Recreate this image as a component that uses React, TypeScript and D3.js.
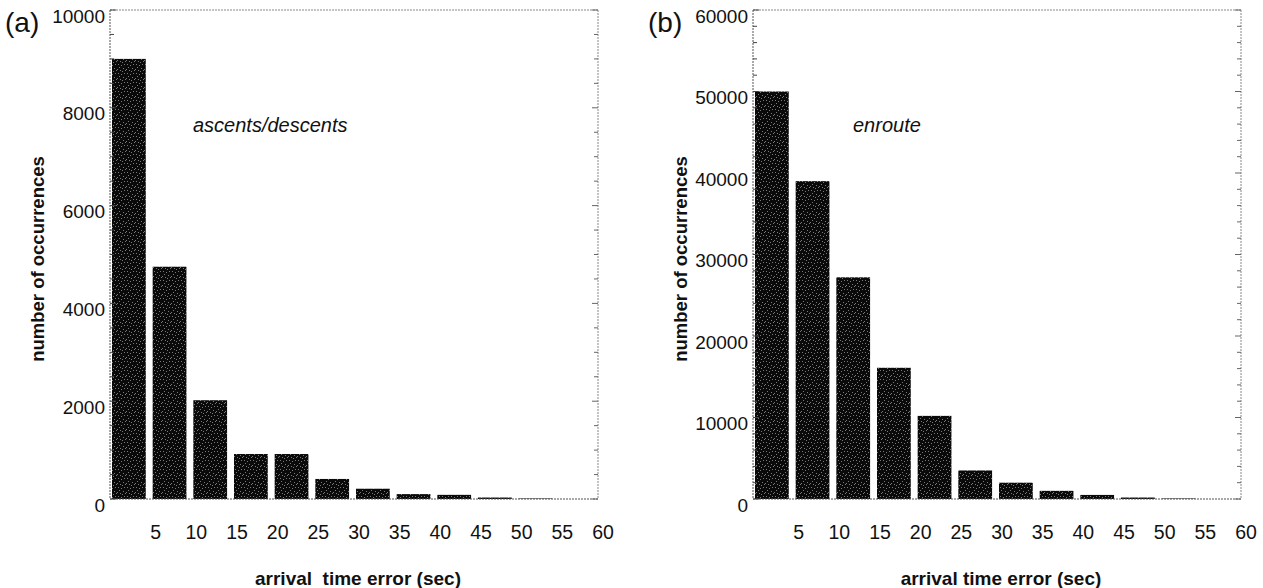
import React, { useEffect, useRef } from "react";
import * as d3 from "d3";

// bins of arrival time error, 5 s wide
const binStarts = [0, 5, 10, 15, 20, 25, 30, 35, 40, 45, 50, 55];
const xTickLabels = [5, 10, 15, 20, 25, 30, 35, 40, 45, 50, 55, 60];

// (a) ascents/descents
const ascentsDescents = [9000, 4750, 2020, 920, 920, 410, 210, 100, 85, 30, 10, 0];
const yTicksA = [0, 2000, 4000, 6000, 8000, 10000];

// (b) enroute
const enroute = [50000, 39000, 27200, 16100, 10200, 3500, 2000, 1000, 500, 180, 60, 0];
const yTicksB = [0, 10000, 20000, 30000, 40000, 50000, 60000];

const FONT = "'Liberation Sans', Arial, Helvetica, sans-serif";

interface Panel {
  tag: string;
  note: string;
  values: number[];
  yTicks: number[];
  minorStep: number;
  left: number;
  right: number;
  noteX: number;
  xTitle: string;
}

const panels: Panel[] = [
  {
    tag: "(a)",
    note: "ascents/descents",
    values: ascentsDescents,
    yTicks: yTicksA,
    minorStep: 500,
    left: 110,
    right: 598,
    noteX: 193,
    xTitle: "arrival  time error (sec)",
  },
  {
    tag: "(b)",
    note: "enroute",
    values: enroute,
    yTicks: yTicksB,
    minorStep: 2000,
    left: 753,
    right: 1241,
    noteX: 853,
    xTitle: "arrival time error (sec)",
  },
];

export default function App() {
  const ref = useRef<SVGSVGElement>(null);

  useEffect(() => {
    const svg = d3.select(ref.current);
    svg.selectAll("*").remove();

    const width = 1263;
    const height = 588;
    const top = 10;
    const bottom = 499;

    // speckled black fill like the scanned halftone
    const defs = svg.append("defs");
    const pat = defs
      .append("pattern")
      .attr("id", "speckle")
      .attr("width", 9)
      .attr("height", 9)
      .attr("patternUnits", "userSpaceOnUse");
    pat.append("rect").attr("width", 9).attr("height", 9).attr("fill", "#0a0a0a");
    [
      [1, 1], [4, 2], [7, 1], [2, 4], [6, 5], [3, 7], [8, 7], [0, 6], [5, 8],
    ].forEach(([px, py]) => {
      pat
        .append("rect")
        .attr("x", px)
        .attr("y", py)
        .attr("width", 1)
        .attr("height", 1)
        .attr("fill", "#7a7a7a");
    });

    svg.append("rect").attr("width", width).attr("height", height).attr("fill", "#fff");

    panels.forEach(p => {
      const yMax = p.yTicks[p.yTicks.length - 1];
      const x = d3.scaleLinear().domain([0, 60]).range([p.left, p.right]);
      const y = d3.scaleLinear().domain([0, yMax]).range([bottom, top]);
      const bw = x(5) - x(0);

      const g = svg.append("g");

      // bars
      g.selectAll("rect.bar")
        .data(p.values)
        .enter()
        .append("rect")
        .attr("class", "bar")
        .attr("x", (_, i) => x(binStarts[i]) + 2)
        .attr("width", bw * 0.83)
        .attr("y", d => y(d))
        .attr("height", d => bottom - y(d))
        .attr("fill", "url(#speckle)");

      // frame (dotted, scanned look)
      const frame = [
        { x1: p.left, y1: top, x2: p.left, y2: bottom, c: "#555" },
        { x1: p.left, y1: bottom, x2: p.right, y2: bottom, c: "#555" },
        { x1: p.left, y1: top, x2: p.right, y2: top, c: "#888" },
        { x1: p.right, y1: top, x2: p.right, y2: bottom, c: "#888" },
      ];
      g.selectAll("line.frame")
        .data(frame)
        .enter()
        .append("line")
        .attr("x1", d => d.x1)
        .attr("y1", d => d.y1)
        .attr("x2", d => d.x2)
        .attr("y2", d => d.y2)
        .attr("stroke", d => d.c)
        .attr("stroke-width", 1)
        .attr("stroke-dasharray", "2 1");

      // inward ticks on both sides
      const minor = d3.range(0, yMax + 1, p.minorStep);
      minor.forEach(t => {
        const major = p.yTicks.includes(t);
        const len = major ? 6 : 4;
        g.append("line")
          .attr("x1", p.left)
          .attr("x2", p.left + len)
          .attr("y1", y(t))
          .attr("y2", y(t))
          .attr("stroke", "#444");
        g.append("line")
          .attr("x1", p.right)
          .attr("x2", p.right - len)
          .attr("y1", y(t))
          .attr("y2", y(t))
          .attr("stroke", "#666");
      });

      // y tick labels
      g.selectAll("text.ylab")
        .data(p.yTicks)
        .enter()
        .append("text")
        .attr("x", p.left - 5)
        .attr("y", d => y(d) + 6)
        .attr("dy", "0.35em")
        .attr("text-anchor", "end")
        .attr("font-family", FONT)
        .attr("font-size", 19)
        .attr("fill", "#111")
        .text(d => String(d));

      // x tick labels
      g.selectAll("text.xlab")
        .data(xTickLabels)
        .enter()
        .append("text")
        .attr("x", d => x(d) + 5)
        .attr("y", bottom + 33)
        .attr("dy", "0.35em")
        .attr("text-anchor", "middle")
        .attr("font-family", FONT)
        .attr("font-size", 19.5)
        .attr("fill", "#111")
        .text(d => String(d));

      // panel tag
      g.append("text")
        .attr("x", p.left - 105)
        .attr("y", 22)
        .attr("dy", "0.35em")
        .attr("font-family", FONT)
        .attr("font-size", 28)
        .attr("fill", "#111")
        .text(p.tag);

      // annotation
      g.append("text")
        .attr("x", p.noteX)
        .attr("y", 125)
        .attr("dy", "0.35em")
        .attr("font-family", FONT)
        .attr("font-size", 20)
        .attr("font-style", "italic")
        .attr("fill", "#111")
        .text(p.note);

      // axis titles
      g.append("text")
        .attr("transform", `translate(${p.left - 72},259) rotate(-90)`)
        .attr("dy", "0.35em")
        .attr("text-anchor", "middle")
        .attr("font-family", FONT)
        .attr("font-size", 18.5)
        .attr("font-weight", "bold")
        .attr("fill", "#111")
        .text("number of occurrences");

      g.append("text")
        .attr("x", (p.left + p.right) / 2 + 4)
        .attr("y", 578)
        .attr("dy", "0.35em")
        .attr("text-anchor", "middle")
        .attr("font-family", FONT)
        .attr("font-size", 19)
        .attr("font-weight", "bold")
        .attr("fill", "#111")
        .style("white-space", "pre")
        .text(p.xTitle);
    });
  }, []);

  return (
    <svg
      ref={ref}
      width={1263}
      height={588}
      style={{ position: "absolute", left: 0, top: 0, display: "block" }}
    />
  );
}
